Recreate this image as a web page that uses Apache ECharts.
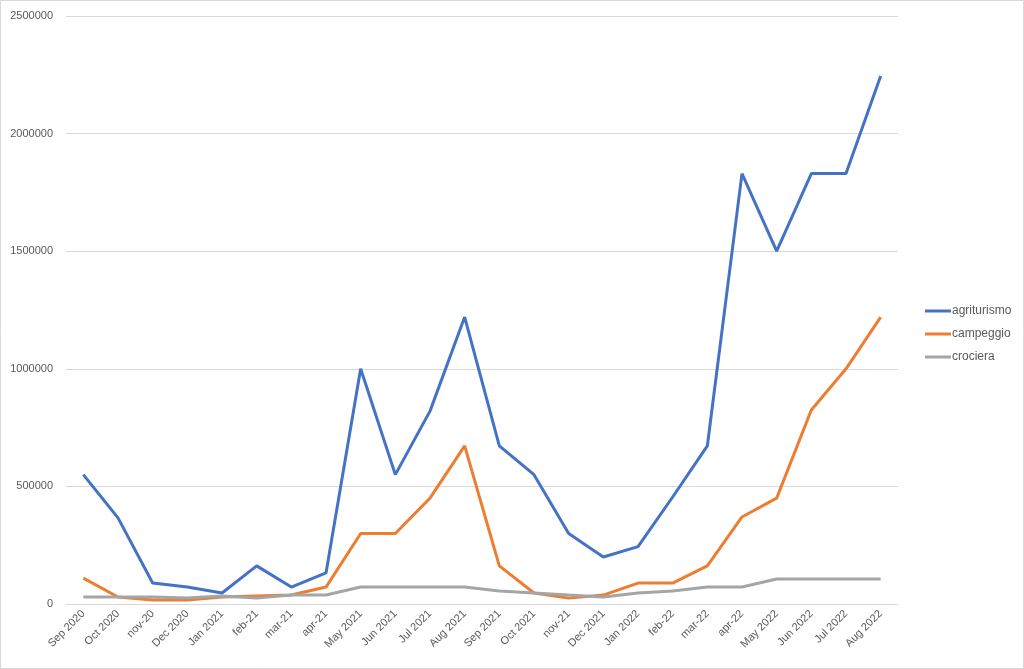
<!DOCTYPE html>
<html>
<head>
<meta charset="utf-8">
<script src="https://cdn.jsdelivr.net/npm/echarts@6/dist/echarts.min.js"></script>
<style>
html,body{margin:0;padding:0;background:#fff;}
#main{width:1024px;height:669px;}
</style>
</head>
<body>
<div id="main"></div>
<script>
const categories = ["Sep 2020","Oct 2020","nov-20","Dec 2020","Jan 2021","feb-21","mar-21","apr-21","May 2021","Jun 2021","Jul 2021","Aug 2021","Sep 2021","Oct 2021","nov-21","Dec 2021","Jan 2022","feb-22","mar-22","apr-22","May 2022","Jun 2022","Jul 2022","Aug 2022"];
const agriturismo = [550000,366000,89000,72000,47000,162000,72000,132000,1000000,550000,820000,1220000,672000,550000,300000,200000,244000,455000,672000,1830000,1500000,1830000,1830000,2245000];
const campeggio = [110000,30000,17000,17000,30000,34000,38000,72000,300000,300000,450000,672000,162000,47000,25000,38000,89000,89000,162000,370000,450000,825000,1000000,1220000];
const crociera = [30000,30000,30000,25000,34000,25000,38000,38000,72000,72000,72000,72000,55000,47000,38000,30000,47000,55000,72000,72000,106000,106000,106000,106000];
const yTicks = [0,500000,1000000,1500000,2000000,2500000];

const chart = echarts.init(document.getElementById('main'));
const font = 'Liberation Sans, Arial, sans-serif';
function mk(name, data, color){
  return {name, type:'line', data, symbol:'none', smooth:false,
    lineStyle:{color, width:3}, itemStyle:{color}};
}
chart.setOption({
  animation:false,
  backgroundColor:'#fff',
  color:['#4472C4','#ED7D31','#A5A5A5'],
  grid:{left:66, right:126, top:16, bottom:65, containLabel:false},
  legend:{
    orient:'vertical', left:920, top:300, itemGap:11, itemWidth:26, itemHeight:3,
    icon:'rect',
    textStyle:{color:'#595959', fontSize:12, fontFamily:font, padding:[0,0,0,-4]},
    data:['agriturismo','campeggio','crociera']
  },
  xAxis:{
    type:'category', data:categories, boundaryGap:true,
    axisLine:{show:true, lineStyle:{color:'#d9d9d9', width:1}},
    axisTick:{show:false},
    axisLabel:{rotate:45, color:'#595959', fontSize:11, fontFamily:font, interval:0, margin:8}
  },
  yAxis:{
    type:'value', min:yTicks[0], max:yTicks[yTicks.length-1], interval:500000,
    axisLine:{show:false}, axisTick:{show:false},
    splitLine:{lineStyle:{color:'#d9d9d9', width:1}},
    axisLabel:{color:'#595959', fontSize:11, fontFamily:font, margin:13, formatter:function(v){return String(v);}}
  },
  graphic:[{type:'rect', shape:{x:0.5,y:0.5,width:1023,height:668}, style:{fill:'none', stroke:'#d9d9d9', lineWidth:1}, silent:true}],
  series:[mk('agriturismo',agriturismo,'#4472C4'), mk('campeggio',campeggio,'#ED7D31'), mk('crociera',crociera,'#A5A5A5')]
});
</script>
</body>
</html>
